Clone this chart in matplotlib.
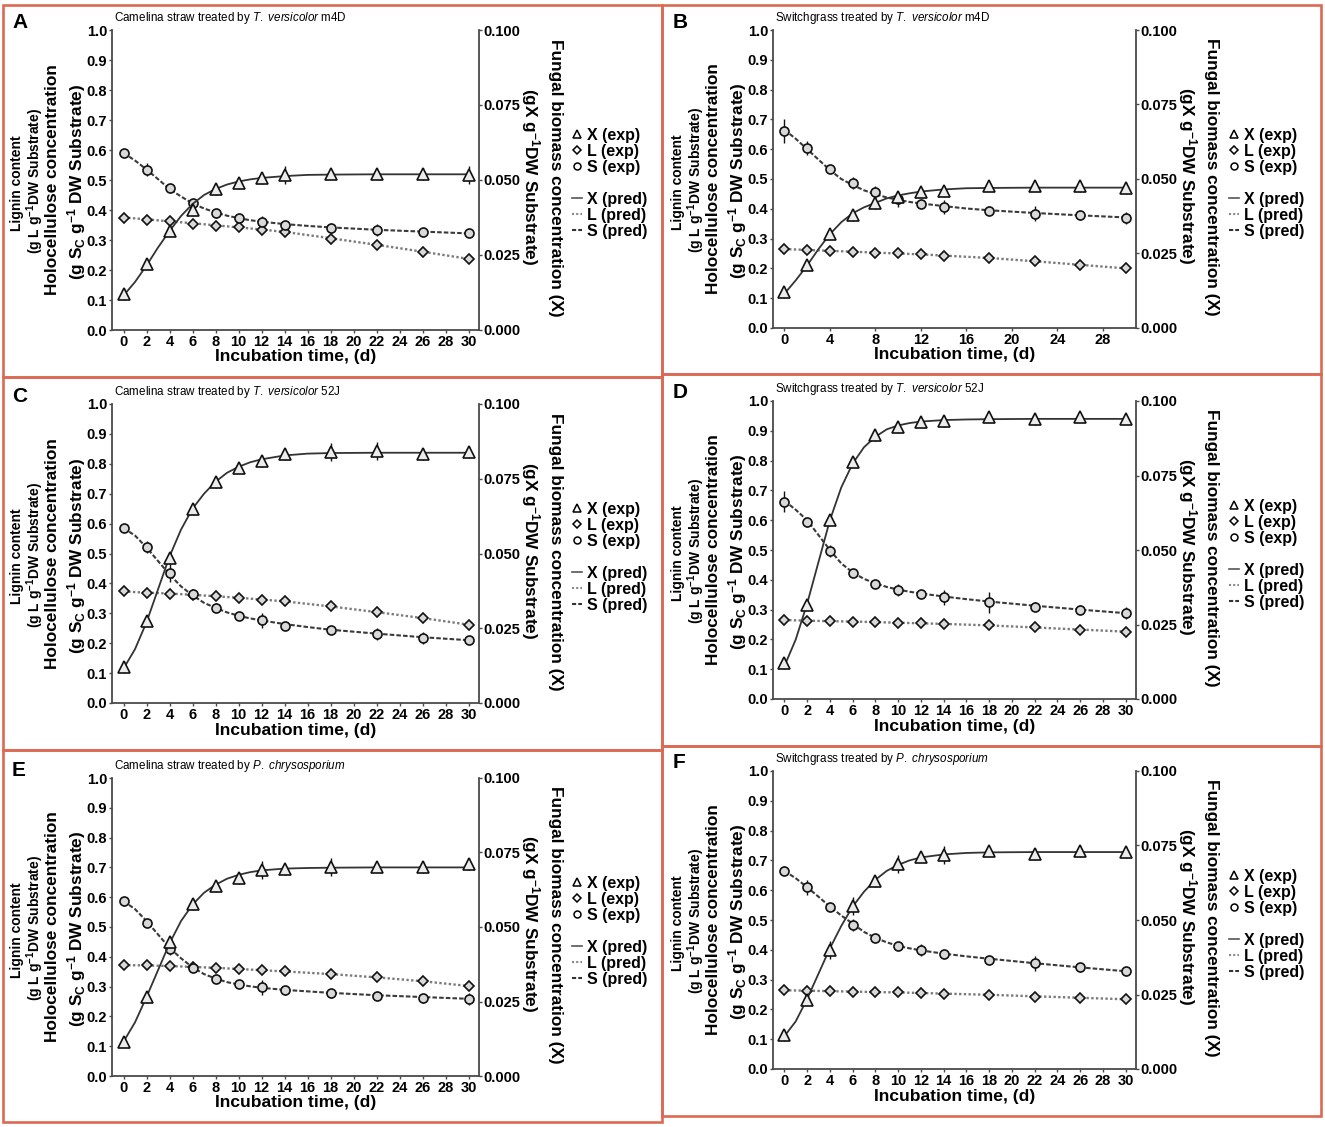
import matplotlib
matplotlib.use('Agg')
import matplotlib.pyplot as plt
from matplotlib import font_manager as fm
from matplotlib.lines import Line2D
from matplotlib.patches import Rectangle

names = {f.name for f in fm.fontManager.ttflist}
HAS_NARROW = 'Liberation Sans Narrow' in names
NARROW = 'Liberation Sans Narrow' if HAS_NARROW else 'Liberation Sans'
NS = 1.0 if HAS_NARROW else 0.88
WIDE = 'Liberation Sans'

plt.rcParams.update({
    'font.family': [NARROW, 'DejaVu Sans'],
    'mathtext.fontset': 'custom',
    'mathtext.rm': WIDE,
    'mathtext.bf': WIDE + ':bold',
    'mathtext.it': NARROW + ':italic',
})

# ---------------- data ----------------
days = [0, 2, 4, 6, 8, 10, 12, 14, 18, 22, 26, 30]
days_pred = [0, 1, 2, 3, 4, 5, 6, 7, 8, 9, 10, 11, 12, 14, 16, 18, 22, 26, 30]

# Panel A: Camelina straw, T. versicolor m4D
a_x = [0.012, 0.022, 0.033, 0.040, 0.047, 0.049, 0.0505, 0.0515, 0.052, 0.052, 0.052, 0.0515]
a_x_err = [0.002, 0.001, 0.0015, 0.002, 0.002, 0.002, 0.002, 0.003, 0.001, 0.001, 0.002, 0.003]
a_x_pred = [0.0115, 0.016, 0.0215, 0.0275, 0.033, 0.038, 0.042, 0.045, 0.047, 0.0485, 0.0495,
            0.0502, 0.0507, 0.0513, 0.0517, 0.0518, 0.0519, 0.0519, 0.0519]
a_l = [0.375, 0.367, 0.362, 0.353, 0.348, 0.342, 0.333, 0.326, 0.305, 0.283, 0.261, 0.237]
a_l_err = [0.008, 0.006, 0.006, 0.006, 0.006, 0.005, 0.006, 0.006, 0.006, 0.006, 0.006, 0.006]
a_l_pred = [0.375, 0.369, 0.362, 0.356, 0.349, 0.342, 0.335, 0.327, 0.306, 0.284, 0.261, 0.237]
a_s = [0.590, 0.535, 0.472, 0.425, 0.390, 0.372, 0.360, 0.350, 0.340, 0.333, 0.328, 0.322]
a_s_err = [0.010, 0.020, 0.015, 0.010, 0.015, 0.010, 0.020, 0.010, 0.010, 0.020, 0.010, 0.010]
a_s_pred = [0.590, 0.565, 0.535, 0.503, 0.470, 0.445, 0.422, 0.405, 0.392, 0.381, 0.373,
            0.366, 0.361, 0.353, 0.347, 0.342, 0.334, 0.328, 0.322]

# Panel B: Switchgrass, T. versicolor m4D
b_x = [0.012, 0.021, 0.0315, 0.038, 0.042, 0.044, 0.0455, 0.046, 0.0475, 0.0478, 0.0475, 0.047]
b_x_err = [0.002, 0.001, 0.001, 0.002, 0.002, 0.002, 0.001, 0.002, 0.001, 0.001, 0.002, 0.002]
b_x_pred = [0.0115, 0.016, 0.021, 0.0265, 0.0315, 0.0355, 0.0385, 0.0405, 0.042, 0.0435, 0.0445,
            0.0452, 0.0458, 0.0465, 0.0469, 0.047, 0.0471, 0.0471, 0.0471]
b_l = [0.265, 0.262, 0.259, 0.256, 0.253, 0.250, 0.247, 0.243, 0.235, 0.224, 0.213, 0.200]
b_l_err = [0.005, 0.004, 0.004, 0.004, 0.004, 0.004, 0.004, 0.004, 0.004, 0.004, 0.004, 0.005]
b_l_pred = [0.265, 0.262, 0.259, 0.256, 0.253, 0.250, 0.247, 0.243, 0.235, 0.224, 0.212, 0.200]
b_s = [0.662, 0.604, 0.535, 0.487, 0.455, 0.432, 0.416, 0.406, 0.393, 0.383, 0.378, 0.370]
b_s_err = [0.040, 0.025, 0.008, 0.020, 0.020, 0.025, 0.010, 0.025, 0.015, 0.025, 0.015, 0.020]
b_s_pred = [0.665, 0.635, 0.600, 0.565, 0.530, 0.500, 0.480, 0.462, 0.449, 0.438, 0.430,
            0.423, 0.418, 0.409, 0.401, 0.395, 0.386, 0.378, 0.371]

# Panel C: Camelina straw, T. versicolor 52J
c_x = [0.012, 0.0275, 0.0485, 0.065, 0.074, 0.0785, 0.081, 0.0832, 0.084, 0.0843, 0.0832, 0.084]
c_x_err = [0.002, 0.001, 0.002, 0.002, 0.002, 0.001, 0.002, 0.002, 0.003, 0.003, 0.002, 0.002]
c_x_pred = [0.0115, 0.018, 0.027, 0.038, 0.049, 0.058, 0.065, 0.070, 0.074, 0.077, 0.079,
            0.0805, 0.0815, 0.0828, 0.0834, 0.0836, 0.0837, 0.0837, 0.0837]
c_l = [0.373, 0.369, 0.366, 0.362, 0.357, 0.352, 0.346, 0.340, 0.323, 0.304, 0.284, 0.262]
c_l_err = [0.006, 0.005, 0.005, 0.005, 0.005, 0.005, 0.005, 0.005, 0.005, 0.005, 0.005, 0.006]
c_l_pred = [0.373, 0.369, 0.366, 0.362, 0.357, 0.352, 0.346, 0.340, 0.323, 0.304, 0.284, 0.262]
c_s = [0.585, 0.523, 0.435, 0.365, 0.318, 0.292, 0.276, 0.258, 0.243, 0.230, 0.216, 0.210]
c_s_err = [0.010, 0.020, 0.030, 0.010, 0.015, 0.010, 0.025, 0.010, 0.010, 0.020, 0.020, 0.010]
c_s_pred = [0.585, 0.560, 0.520, 0.475, 0.430, 0.390, 0.360, 0.335, 0.318, 0.303, 0.292,
            0.283, 0.276, 0.264, 0.254, 0.245, 0.232, 0.220, 0.210]

# Panel D: Switchgrass, T. versicolor 52J
d_x = [0.012, 0.0315, 0.060, 0.0795, 0.0885, 0.0912, 0.0928, 0.0932, 0.0945, 0.094, 0.0945, 0.094]
d_x_err = [0.002, 0.001, 0.001, 0.001, 0.002, 0.002, 0.001, 0.002, 0.001, 0.002, 0.001, 0.001]
d_x_pred = [0.011, 0.020, 0.032, 0.046, 0.060, 0.071, 0.079, 0.0845, 0.088, 0.0905, 0.0918,
            0.0926, 0.0931, 0.0936, 0.0938, 0.0939, 0.094, 0.094, 0.094]
d_l = [0.265, 0.262, 0.261, 0.260, 0.258, 0.256, 0.254, 0.251, 0.247, 0.240, 0.233, 0.226]
d_l_err = [0.005, 0.004, 0.004, 0.004, 0.004, 0.004, 0.004, 0.004, 0.004, 0.004, 0.004, 0.004]
d_l_pred = [0.265, 0.263, 0.261, 0.260, 0.258, 0.256, 0.254, 0.252, 0.247, 0.240, 0.233, 0.226]
d_s = [0.662, 0.593, 0.496, 0.424, 0.387, 0.367, 0.354, 0.342, 0.325, 0.310, 0.299, 0.289]
d_s_err = [0.035, 0.015, 0.020, 0.010, 0.010, 0.020, 0.010, 0.025, 0.035, 0.015, 0.015, 0.020]
d_s_pred = [0.665, 0.635, 0.600, 0.550, 0.500, 0.455, 0.425, 0.403, 0.388, 0.376, 0.367,
            0.360, 0.354, 0.344, 0.335, 0.327, 0.313, 0.300, 0.288]

# Panel E: Camelina straw, P. chrysosporium
e_x = [0.0115, 0.0265, 0.045, 0.0578, 0.0637, 0.0665, 0.069, 0.0693, 0.070, 0.0703, 0.070, 0.071]
e_x_err = [0.0015, 0.002, 0.002, 0.002, 0.002, 0.002, 0.003, 0.002, 0.003, 0.001, 0.002, 0.002]
e_x_pred = [0.0115, 0.018, 0.0265, 0.0355, 0.0445, 0.052, 0.0575, 0.0615, 0.0642, 0.0662, 0.0675,
            0.0684, 0.069, 0.0696, 0.0698, 0.0699, 0.070, 0.070, 0.070]
e_l = [0.372, 0.371, 0.369, 0.366, 0.363, 0.359, 0.356, 0.351, 0.343, 0.332, 0.319, 0.302]
e_l_err = [0.006, 0.005, 0.005, 0.005, 0.005, 0.005, 0.005, 0.005, 0.005, 0.005, 0.005, 0.008]
e_l_pred = [0.372, 0.371, 0.369, 0.366, 0.363, 0.359, 0.355, 0.351, 0.342, 0.331, 0.318, 0.302]
e_s = [0.587, 0.515, 0.425, 0.363, 0.325, 0.308, 0.297, 0.288, 0.278, 0.269, 0.261, 0.259]
e_s_err = [0.015, 0.008, 0.020, 0.015, 0.010, 0.010, 0.025, 0.015, 0.015, 0.010, 0.015, 0.020]
e_s_pred = [0.587, 0.560, 0.520, 0.475, 0.430, 0.395, 0.365, 0.342, 0.327, 0.315, 0.307,
            0.301, 0.296, 0.289, 0.284, 0.279, 0.271, 0.265, 0.259]

# Panel F: Switchgrass, P. chrysosporium
f_x = [0.0115, 0.023, 0.040, 0.0548, 0.063, 0.0688, 0.0713, 0.0718, 0.073, 0.0723, 0.073, 0.0727]
f_x_err = [0.002, 0.001, 0.003, 0.003, 0.002, 0.003, 0.002, 0.003, 0.001, 0.002, 0.002, 0.002]
f_x_pred = [0.011, 0.016, 0.0235, 0.032, 0.0405, 0.048, 0.0545, 0.0595, 0.0635, 0.0665, 0.0685,
            0.070, 0.071, 0.072, 0.0725, 0.0727, 0.0728, 0.0728, 0.0728]
f_l = [0.264, 0.262, 0.261, 0.259, 0.258, 0.257, 0.255, 0.253, 0.248, 0.243, 0.239, 0.234]
f_l_err = [0.005, 0.004, 0.004, 0.004, 0.004, 0.004, 0.004, 0.004, 0.004, 0.004, 0.004, 0.004]
f_l_pred = [0.264, 0.263, 0.261, 0.260, 0.258, 0.257, 0.255, 0.253, 0.249, 0.244, 0.239, 0.234]
f_s = [0.665, 0.610, 0.545, 0.483, 0.438, 0.413, 0.399, 0.387, 0.367, 0.355, 0.342, 0.328]
f_s_err = [0.015, 0.025, 0.010, 0.020, 0.010, 0.010, 0.020, 0.010, 0.010, 0.025, 0.015, 0.010]
f_s_pred = [0.665, 0.640, 0.610, 0.578, 0.545, 0.515, 0.488, 0.460, 0.440, 0.425, 0.413,
            0.405, 0.398, 0.387, 0.378, 0.370, 0.355, 0.341, 0.328]

left_ticks = [0.0, 0.1, 0.2, 0.3, 0.4, 0.5, 0.6, 0.7, 0.8, 0.9, 1.0]
right_ticks = [0.000, 0.025, 0.050, 0.075, 0.100]

titles = {
    'A': r'Camelina straw treated by $\mathit{T.}$ $\mathit{versicolor}$ m4D',
    'B': r'Switchgrass treated by $\mathit{T.}$ $\mathit{versicolor}$ m4D',
    'C': r'Camelina straw treated by $\mathit{T.}$ $\mathit{versicolor}$ 52J',
    'D': r'Switchgrass treated by $\mathit{T.}$ $\mathit{versicolor}$ 52J',
    'E': r'Camelina straw treated by $\mathit{P.}$ $\mathit{chrysosporium}$',
    'F': r'Switchgrass treated by $\mathit{P.}$ $\mathit{chrysosporium}$',
}
legend_labels = ['X (exp)', 'L (exp)', 'S (exp)', ' ', 'X (pred)', 'L (pred)', 'S (pred)']

# ---------------- figure ----------------
W, H = 1325, 1127
fig = plt.figure(figsize=(W / 100, H / 100), dpi=100)


def fx(p):
    return p / W


def fy(p):
    return 1 - p / H


BORDER = '#dc6a52'
for (x0, y0, x1, y1) in [(3, 5, 662, 377), (3, 377, 662, 750), (3, 750, 662, 1122),
                         (662, 5, 1321, 374), (662, 374, 1321, 746), (662, 746, 1321, 1116)]:
    fig.add_artist(Rectangle((fx(x0), fy(y1)), (x1 - x0) / W, (y1 - y0) / H, fill=False,
                             ec=BORDER, lw=1.9, transform=fig.transFigure))

SPINE = '#4a4a4a'
FILL = '#d9d9d9'


def draw_panel(box, letter, xstep, x, xe, xp, l, le, lp, s, se, sp):
    L, R, T, B = box
    ax = fig.add_axes([fx(L), fy(B), (R - L) / W, (B - T) / H])
    ax2 = ax.twinx()
    ax.set_zorder(1)
    ax2.set_zorder(2)
    ax.patch.set_visible(False)
    ax2.patch.set_visible(False)

    ax.set_xlim(-1.0, 30.9)
    ax.set_ylim(0, 1)
    ax2.set_ylim(0, 0.1)

    ax.plot(days, lp, ls=(0, (1, 1)), color='#7a7a7a', lw=1.7, zorder=2)
    ax.plot(days_pred, sp, ls=(0, (2.2, 1.0)), color='#3a3a3a', lw=1.5, zorder=2)
    ax.errorbar(days, l, yerr=le, fmt='D', ms=5.5, mfc=FILL, mec='#111111', mew=1.2,
                ecolor='#111111', elinewidth=1.0, capsize=0, zorder=3)
    ax.errorbar(days, s, yerr=se, fmt='o', ms=6.5, mfc=FILL, mec='#111111', mew=1.2,
                ecolor='#111111', elinewidth=1.0, capsize=0, zorder=3)
    ax2.plot(days_pred, xp, ls='-', color='#333333', lw=1.3, zorder=2)
    ax2.errorbar(days, x, yerr=xe, fmt='^', ms=8, mfc='#ececec', mec='#111111', mew=1.2,
                 ecolor='#111111', elinewidth=1.0, capsize=0, zorder=3)

    ax.set_xticks(list(range(0, 31, xstep)) if xstep == 2 else list(range(0, 29, xstep)))
    ax.set_yticks(left_ticks)
    ax.set_yticklabels([f'{v:.1f}' for v in left_ticks])
    ax2.set_yticks(right_ticks)
    ax2.set_yticklabels([f'{v:.3f}' for v in right_ticks])

    for a in (ax, ax2):
        a.spines['top'].set_visible(False)
        for sp_ in a.spines.values():
            sp_.set_color(SPINE)
            sp_.set_linewidth(1.3)
    ax.spines['right'].set_visible(False)
    ax2.spines['left'].set_visible(False)
    ax2.spines['bottom'].set_visible(False)

    tk = dict(direction='out', length=2.5, width=1, color=SPINE, labelcolor='black',
              labelsize=12 * NS, pad=1)
    ax.tick_params(axis='both', **tk)
    ax2.tick_params(axis='y', **tk)
    for lab in ax.get_xticklabels() + ax.get_yticklabels() + ax2.get_yticklabels():
        lab.set_fontweight('bold')

    cy = (T + B) / 2
    # left labels
    fig.text(fx(L - 95), fy(cy + 3), 'Lignin content', rotation=90, ha='center', va='center',
             fontsize=10, fontweight='bold', family=WIDE)
    fig.text(fx(L - 77), fy(cy + 1), r'(g L g$^{\mathbf{-1}}$DW Substrate)', rotation=90,
             ha='center', va='center', fontsize=10, fontweight='bold', family=WIDE)
    fig.text(fx(L - 59), fy(cy), 'Holocellulose concentration', rotation=90, ha='center',
             va='center', fontsize=12.4, fontweight='bold', family=WIDE)
    fig.text(fx(L - 35), fy(cy + 2), r'(g S$_{\mathbf{C}}$ g$^{\mathbf{-1}}$ DW Substrate)',
             rotation=90, ha='center', va='center', fontsize=12.4, fontweight='bold', family=WIDE)
    # right labels
    fig.text(fx(R + 51), fy(cy - 3), r'(gX g$^{\mathbf{-1}}$DW Substrate)', rotation=270,
             ha='center', va='center', fontsize=12.4, fontweight='bold', family=WIDE)
    fig.text(fx(R + 76), fy(cy - 2), 'Fungal biomass concentration (X)', rotation=270,
             ha='center', va='center', fontsize=12.4, fontweight='bold', family=WIDE)
    # x label
    fig.text(fx((L + R) / 2), fy(B + 27), 'Incubation time, (d)', ha='center', va='center',
             fontsize=12.6, fontweight='bold', family=WIDE)
    # panel letter and title
    fig.text(fx(L - 100), fy(T - 8), letter, ha='left', va='center', fontsize=15,
             fontweight='bold', family=WIDE)
    fig.text(fx(L + 2), fy(T - 12), titles[letter], ha='left', va='center',
             fontsize=9.5 * NS, fontweight='normal')

    handles = [
        Line2D([], [], ls='none', marker='^', ms=6, mfc='white', mec='black', mew=1.1),
        Line2D([], [], ls='none', marker='D', ms=4.5, mfc='white', mec='black', mew=1.1),
        Line2D([], [], ls='none', marker='o', ms=5, mfc='white', mec='black', mew=1.1),
        Line2D([], [], ls='none'),
        Line2D([], [], ls='-', color='#555555', lw=1.2),
        Line2D([], [], ls=(0, (1, 1)), color='#888888', lw=1.5),
        Line2D([], [], ls=(0, (2, 1)), color='#333333', lw=1.5),
    ]
    ax2.legend(handles, legend_labels, loc='upper left',
               bbox_to_anchor=(fx(R + 93), fy(T + 98)), bbox_transform=fig.transFigure,
               frameon=False, handlelength=0.6, handletextpad=0.35, labelspacing=0.06,
               borderpad=0, borderaxespad=0,
               prop={'family': WIDE, 'weight': 'bold', 'size': 11.5})


draw_panel((112, 479, 30, 330), 'A', 2, a_x, a_x_err, a_x_pred, a_l, a_l_err, a_l_pred,
           a_s, a_s_err, a_s_pred)
draw_panel((773, 1136, 30, 328), 'B', 4, b_x, b_x_err, b_x_pred, b_l, b_l_err, b_l_pred,
           b_s, b_s_err, b_s_pred)
draw_panel((112, 479, 404, 703), 'C', 2, c_x, c_x_err, c_x_pred, c_l, c_l_err, c_l_pred,
           c_s, c_s_err, c_s_pred)
draw_panel((773, 1136, 401, 699), 'D', 2, d_x, d_x_err, d_x_pred, d_l, d_l_err, d_l_pred,
           d_s, d_s_err, d_s_pred)
draw_panel((112, 479, 778, 1076), 'E', 2, e_x, e_x_err, e_x_pred, e_l, e_l_err, e_l_pred,
           e_s, e_s_err, e_s_pred)
draw_panel((773, 1136, 771, 1069), 'F', 2, f_x, f_x_err, f_x_pred, f_l, f_l_err, f_l_pred,
           f_s, f_s_err, f_s_pred)

fig.savefig('out.png', dpi=100, facecolor='white')
